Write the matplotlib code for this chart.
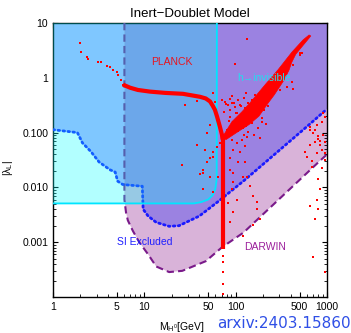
import matplotlib
matplotlib.use("Agg")
import matplotlib.pyplot as plt

plt.rcParams['font.family'] = ['Liberation Sans', 'DejaVu Sans']

# boundaries (M_H0 in GeV, |lambda_L|)
si_x = [1, 1.85, 2.1, 2.6, 3.2, 4.2, 4.8, 5.1, 5.8, 6.05, 9.5, 9.7, 11, 13.5, 18.7, 24, 40, 65, 128, 670, 1000]
si_y = [0.113, 0.10, 0.065, 0.045, 0.029, 0.021, 0.019, 0.013, 0.0113, 0.0112, 0.0105, 0.004, 0.003,
        0.0023, 0.00195, 0.002, 0.003, 0.0056, 0.014, 0.15, 0.27]

darwin_x = [6.05, 6.05, 6.3, 6.6, 7.5, 8.8, 11, 13.5, 18.7, 26, 47, 71, 122, 800, 1000]
darwin_y = [10, 0.006, 0.0035, 0.0025, 0.0016, 0.001, 0.0006, 0.00036, 0.000285, 0.0003, 0.00045,
            0.00081, 0.0015, 0.0285, 0.04]

inv_x = [1, 35, 42, 50, 56, 60, 62, 62.3]
inv_y = [0.0051, 0.0051, 0.0054, 0.006, 0.0072, 0.0095, 0.014, 10]

# relic density line (Planck)
planck_x = [5.84, 6.97, 8.5, 11.5, 17, 26.5, 40.7, 47, 52.4, 56, 59.3, 62.6, 67, 70.7, 72]
planck_y = [0.75, 0.66, 0.6, 0.56, 0.53, 0.51, 0.45, 0.42, 0.37, 0.31, 0.26, 0.195, 0.13, 0.092, 0.075]
strip_x = [72, 72]
strip_y = [0.09, 0.00075]

# dense band going up to the right
band_x = [71, 91, 117.5, 144, 210, 291, 415, 547, 637,
          665, 560, 455, 410, 385, 340, 265, 222, 180, 140, 106, 78.5]
band_y = [0.081, 0.158, 0.241, 0.351, 0.746, 1.40, 2.97, 4.91, 6.05,
          5.8, 4.1, 2.7, 1.9, 1.40, 0.92, 0.49, 0.33, 0.2, 0.14, 0.104, 0.0746]

# individual scan points
pts_x = [1.98, 2.02, 2.36, 2.42, 3.11, 3.36, 3.90, 4.21, 4.54, 5.02, 5.15, 5.56, 5.84, 5.99,
         72, 72, 72, 72, 72,
         76, 82.3, 91.3, 98.5, 112, 126.7, 103.8, 117.5, 133.4, 86.7, 93.6, 106.4, 120.5, 80.2,
         91.3, 103.8, 117.5, 133.4, 93.6, 112, 126.7, 86.7, 106.4, 126.7, 93.6, 120.5, 48.6, 46,
         56.5, 52.4, 43.8, 52.4, 59.3, 91.3, 103.8, 82.3,
         67.3, 62.6, 56.5, 52.4, 48.6, 43.8, 40.6,
         52, 37.7, 25.9, 44, 56.5, 64, 86.7, 93.6, 133, 143.8, 155, 171, 171, 185, 155, 120, 705, 950,
         133, 98.5, 425, 507, 27.9, 37.7, 56.5,
         71, 78.5, 86.7, 96, 106.4, 114, 123, 136.5, 151, 166, 185, 204, 226, 86.7, 101, 123, 143.8,
         166, 195, 74.5, 91.3, 130, 162, 238,
         84.5, 98.5, 112, 130, 151, 176, 195, 136.5, 158, 185, 215, 123, 106.4,
         906, 950, 880, 780, 650, 700, 800, 906, 840, 950, 745, 650, 880, 576, 950, 780, 685, 950, 605,
         650, 745, 800, 840, 685, 880, 800, 840, 780, 650, 800, 745,
         93.6, 86.7,
         507, 425, 366, 322, 415, 366, 256, 304, 530]
pts_y = [4.33, 2.97, 2.41, 2.21, 1.95, 1.95, 1.65, 1.58, 1.40, 1.28, 1.13, 0.92, 0.75, 0.72,
         0.00056, 0.00044, 0.00028, 0.00017, 0.000113,
         0.366, 0.323, 0.35, 0.297, 0.323, 0.285, 0.231, 0.195, 0.188, 0.195, 0.158, 0.14, 0.123, 0.113,
         0.0746, 0.0658, 0.0746, 0.0845, 0.049, 0.0434, 0.056, 0.035, 0.0285, 0.0285, 0.0187, 0.0158, 0.1, 0.049,
         0.0366, 0.0158, 0.0187, 0.366, 0.366, 0.0092, 0.006, 0.0053,
         0.0658, 0.0536, 0.0434, 0.035, 0.0285, 0.0212, 0.0172,
         0.14, 0.06, 0.026, 0.0092, 0.0081, 0.0158, 0.0212, 0.0123, 0.0158, 0.0104, 0.0069, 0.0054, 0.004,
         0.0026, 0.0021, 0.0013, 0.00054, 0.00028,
         5.1, 1.8, 0.63, 2.85, 0.32, 0.37, 0.53,
         0.40, 0.337, 0.415, 0.35, 0.40, 0.31, 0.43, 0.35, 0.40, 0.31, 0.337, 0.26, 0.31, 0.26, 0.231, 0.212, 0.188,
         0.222, 0.188, 0.241, 0.47, 0.533, 0.49, 0.43,
         0.166, 0.145, 0.166, 0.133, 0.152, 0.123, 0.158, 0.104, 0.092, 0.081, 0.145, 0.092, 0.109,
         0.231, 0.195, 0.158, 0.14, 0.113, 0.1, 0.085, 0.09, 0.069, 0.066, 0.066, 0.06, 0.049, 0.045, 0.043, 0.043,
         0.0297, 0.032, 0.036,
         0.129, 0.113, 0.075, 0.06, 0.024, 0.023, 0.014, 0.0092, 0.006, 0.0045, 0.004, 0.0026,
         0.0035, 0.0023,
         2.62, 1.72, 1.40, 1.0, 0.845, 0.686, 0.686, 0.605, 2.85]

x_ticks = [1, 5, 10, 50, 100, 500, 1000]
x_labels = ['1', '5', '10', '50', '100', '500', '1000']
y_ticks = [0.001, 0.01, 0.1, 1, 10]
y_labels = ['0.001', '0.010', '0.100', '1', '10']

XMIN, XMAX, YMIN, YMAX = 1, 1000, 1e-4, 10
split = si_x.index(6.05)

fig = plt.figure(figsize=(3.51, 3.33), dpi=100)
ax = fig.add_axes([53 / 351, 1 - 297 / 333, 274 / 351, 274 / 333])
ax.set_xscale('log')
ax.set_yscale('log')
ax.set_xlim(XMIN, XMAX)
ax.set_ylim(YMIN, YMAX)

# DARWIN region
ax.fill(darwin_x + [XMAX], darwin_y + [YMAX], color='#d9b3d9', lw=0, zorder=1)
# SI excluded region (left part outside DARWIN, right part overlapping it)
ax.fill(si_x[:split + 1] + [si_x[split], XMIN], si_y[:split + 1] + [YMAX, YMAX],
        color='#b7b0ff', lw=0, zorder=2)
ax.fill(si_x[split:] + [XMAX, si_x[split]], si_y[split:] + [YMAX, YMAX],
        color='#9b82e1', lw=0, zorder=2)
ax.plot(darwin_x, darwin_y, color='#7a1a8a', lw=1.5, ls=(0, (3.5, 2)), zorder=3)
ax.plot(si_x, si_y, color='#1a1aff', lw=2, ls=(0, (0.6, 1.2)), dash_capstyle='round', zorder=3)
# h -> invisible
ax.fill(inv_x + [XMIN], inv_y + [YMAX], color='cyan', alpha=0.3, lw=0, zorder=4)
ax.plot(inv_x, inv_y, color='#00e5ff', lw=1.3, zorder=5)

# scan points
ax.plot(planck_x, planck_y, color='red', lw=3, solid_capstyle='butt', zorder=6)
ax.plot(strip_x, strip_y, color='red', lw=3, solid_capstyle='butt', zorder=6)
ax.fill(band_x, band_y, color='red', lw=0.5, zorder=6)
ax.scatter(pts_x, pts_y, s=3, marker='s', c='red', linewidths=0, zorder=7)

ax.text(20, 1.95, 'PLANCK', color='#e8141e', fontsize=7.5, ha='center', va='center', zorder=8)
ax.text(205, 1.0, 'h\u2192invisible', color='#20e0f0', fontsize=7.5, ha='center', va='center', zorder=8)
ax.text(10.2, 0.001, 'SI Excluded', color='#2020ff', fontsize=7.5, ha='center', va='center', zorder=8)
ax.text(209, 0.00081, 'DARWIN', color='#9b1e9b', fontsize=7.5, ha='center', va='center', zorder=8)

ax.set_xticks(x_ticks)
ax.set_xticklabels(x_labels)
ax.set_yticks(y_ticks)
ax.set_yticklabels(y_labels)
ax.tick_params(which='both', direction='in', top=True, right=True, labelsize=7.5)
ax.tick_params(which='major', length=3.5, width=0.8)
ax.tick_params(which='minor', length=2, width=0.6)
for s in ax.spines.values():
    s.set_linewidth(1.0)

ax.set_title('Inert\u2212Doublet Model', fontsize=9.5, pad=4)
ax.set_xlabel(r'M$_{\mathregular{H^0}}$[GeV]', fontsize=7.5)
ax.xaxis.set_label_coords(0.47, -0.085)
ax.set_ylabel(r'|$\mathregular{\lambda_L}$|', fontsize=7.5)
ax.yaxis.set_label_coords(-0.14, 0.47)

fig.text(0.998, 0.028, 'arxiv:2403.15860', color='#2f4fe6', fontsize=11, ha='right', va='center',
         family='DejaVu Sans')

plt.savefig('out.png', dpi=100)
